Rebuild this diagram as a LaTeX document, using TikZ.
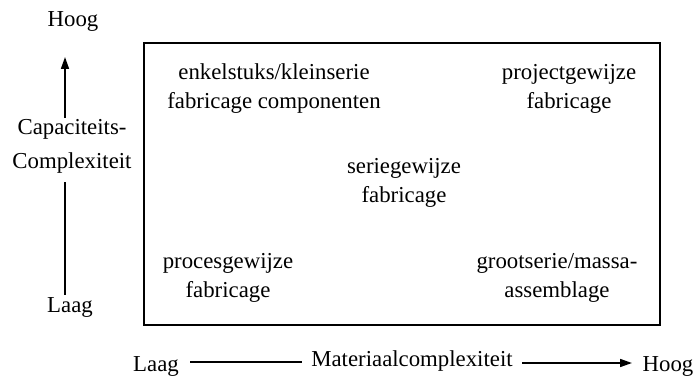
\documentclass[tikz,border=0pt]{standalone}
\usepackage{fontspec}
\setmainfont{Liberation Serif}
\usetikzlibrary{arrows.meta}
\begin{document}
\begin{tikzpicture}[x=1pt,y=-1pt,
  lbl/.style={align=center,inner sep=0pt,font=\fontsize{22.8}{29}\selectfont},
  axis/.style={line width=1.6pt},
  tip/.style={-{Triangle[length=12pt,width=8pt]}}]
\useasboundingbox (0,0) rectangle (696,377);
\node[draw,line width=1.6pt,minimum width=516pt,minimum height=282pt,inner sep=0pt] (box) at (402,184) {};
\node[lbl] (hoogY) at (73,21) {Hoog};
\node[lbl,font=\fontsize{22.8}{34}\selectfont] (cap) at (72,146) {Capaciteits-\\Complexiteit};
\node[lbl] (laagY) at (70,307) {Laag};
\coordinate (upTop) at (65,57);
\coordinate (upBot) at (65,118);
\coordinate (loTop) at (65,182);
\coordinate (loBot) at (65,295);
\draw[axis,tip] (upBot) -- (upTop);
\draw[axis] (loTop) -- (loBot);
\node[lbl,anchor=base] (laagX) at (156,371) {Laag};
\node[lbl,anchor=base] (mat) at (412,366) {Materiaalcomplexiteit};
\node[lbl,anchor=base] (hoogX) at (668,371) {Hoog};
\coordinate (l1) at (190,362);
\coordinate (l2) at (302,362);
\coordinate (r1) at (522,363);
\coordinate (r2) at (632,363);
\draw[axis] (l1) -- (l2);
\draw[axis,tip] (r1) -- (r2);
\node[lbl] (enk) at (274,89) {enkelstuks/kleinserie\\fabricage componenten};
\node[lbl] (proj) at (569,89) {projectgewijze\\fabricage};
\node[lbl] (serie) at (404,183) {seriegewijze\\fabricage};
\node[lbl] (proc) at (228,278) {procesgewijze\\fabricage};
\node[lbl] (groot) at (557,278) {grootserie/massa-\\assemblage};
\end{tikzpicture}
\end{document}
